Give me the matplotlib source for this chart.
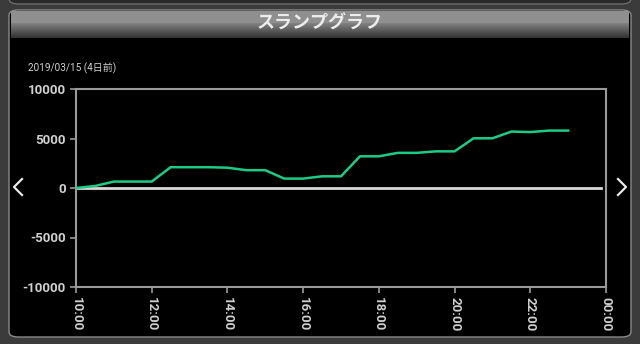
import numpy as np
import matplotlib
matplotlib.use('Agg')
import matplotlib.pyplot as plt
from matplotlib.patches import FancyBboxPatch
from matplotlib.lines import Line2D

plt.rcParams['font.family'] = ['Roboto', 'Noto Sans CJK JP', 'DejaVu Sans']

# slump data, every 30 minutes from 10:00 (hours since 10:00)
hours = [0, 0.5, 1, 1.5, 2, 2.5, 3, 3.5, 4, 4.5, 5, 5.5, 6, 6.5, 7,
         7.5, 8, 8.5, 9, 9.5, 10, 10.5, 11, 11.5, 12, 12.5, 13]
values = [0, 200, 650, 650, 650, 2100, 2100, 2100, 2050, 1800, 1800, 950, 950, 1180, 1180,
          3200, 3200, 3550, 3550, 3700, 3700, 5020, 5020, 5700, 5650, 5800, 5800]
xtick_pos = [0, 2, 4, 6, 8, 10, 12, 14]
xtick_labels = ['10:00', '12:00', '14:00', '16:00', '18:00', '20:00', '22:00', '00:00']
yticks = [-10000, -5000, 0, 5000, 10000]

fig = plt.figure(figsize=(6.4, 3.44), dpi=100)
fig.patch.set_facecolor('#3b3b3b')

W, H = 640, 344
def fx(x):
    return x / W
def fy(y):
    return 1 - y / H

# top strip of the previous panel
fig.patches.append(FancyBboxPatch((fx(9), fy(4)), fx(622), 0.05,
                                  boxstyle='round,pad=0,rounding_size=0.015',
                                  transform=fig.transFigure, facecolor='#2a2a2a',
                                  edgecolor='#6a6a6a', lw=1, zorder=-2))
# main black panel
fig.patches.append(FancyBboxPatch((fx(9), fy(337)), fx(622), (337 - 10) / H,
                                  boxstyle='round,pad=0,rounding_size=0.015',
                                  transform=fig.transFigure, facecolor='black',
                                  edgecolor='#8a8a8a', lw=1, zorder=-2))

# title bar with gradient
tax = fig.add_axes([fx(11), fy(38), fx(618), 27 / H])
grad = np.concatenate([np.full(12, 0.56), np.linspace(0.5, 0.2, 15)])[:, None]
tax.imshow(grad, aspect='auto', cmap='gray', vmin=0, vmax=1, extent=[0, 1, 0, 1])
tax.set_axis_off()
tax.text(0.5, 0.55, 'スランプグラフ', color='#ececec', fontsize=13, fontweight='bold',
         family=['Noto Sans CJK JP'], ha='center', va='center', transform=tax.transAxes)

fig.text(fx(28), fy(68), '2019/03/15 (4日前)', color='#d0d0d0', fontsize=7.2,
         ha='left', va='center')

ax = fig.add_axes([fx(76), fy(287), fx(530), (287 - 89) / H])
ax.set_facecolor('black')
ax.axhline(0, xmin=0, xmax=0.99, color='#d8d8d8', lw=2, zorder=2)
ax.plot(hours, values, color='#1ccc86', lw=1.8, zorder=3)
ax.set_xlim(0, 14)
ax.set_ylim(-10000, 10000)
ax.set_xticks(xtick_pos)
ax.set_xticklabels(xtick_labels, rotation=-90)
ax.set_yticks(yticks)
ax.set_yticklabels([str(v) for v in yticks])
for s in ax.spines.values():
    s.set_color('#9a9a9a')
    s.set_linewidth(1.5)
ax.tick_params(colors='#9a9a9a', labelcolor='#d0d0d0', labelsize=9.5, length=4, width=1.2)
for lab in ax.get_xticklabels() + ax.get_yticklabels():
    lab.set_fontweight('bold')

# navigation arrows
for pts in ([(22, 179), (14, 187), (22, 195)], [(618, 179), (626, 187), (618, 195)]):
    xs = [fx(p[0]) for p in pts]
    ys = [fy(p[1]) for p in pts]
    fig.lines.append(Line2D(xs, ys, transform=fig.transFigure, color='#e8e8e8', lw=1.6))

fig.savefig('out.png', dpi=100, facecolor=fig.get_facecolor())
